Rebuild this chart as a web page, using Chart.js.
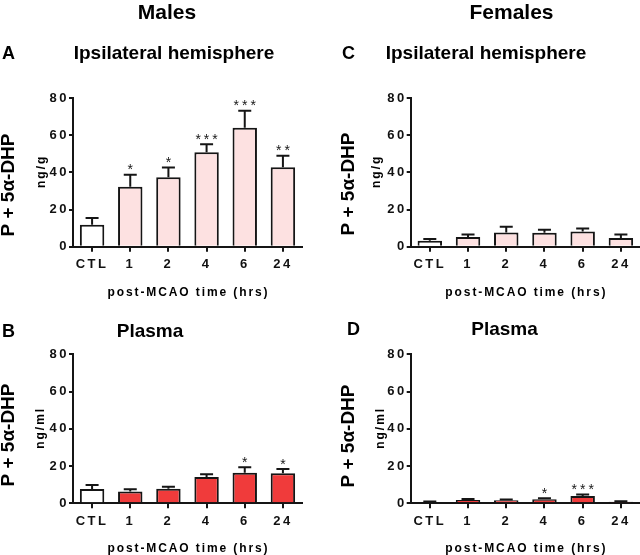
<!DOCTYPE html>
<html>
<head>
<meta charset="utf-8">
<title>P + 5α-DHP after MCAO</title>
<script src="https://cdn.jsdelivr.net/npm/chart.js@4.4.1/dist/chart.umd.min.js"></script>
<style>
  body { margin: 0; background: #fff; }
  #wrap { position: relative; width: 640px; height: 555px; overflow: hidden; }
  canvas { position: absolute; }
</style>
</head>
<body>
<div id="wrap">
  <canvas id="chartA" width="320" height="300" style="left:0;top:0"></canvas>
  <canvas id="chartB" width="320" height="255" style="left:0;top:300px"></canvas>
  <canvas id="chartC" width="320" height="300" style="left:320px;top:0"></canvas>
  <canvas id="chartD" width="320" height="255" style="left:320px;top:300px"></canvas>
</div>
<script>
// data (mean and SEM)
const timeLabels = ['CTL', '1', '2', '4', '6', '24'];
const yTicks = [0, 20, 40, 60, 80];

const maleBrainMean = [11.8, 32.3, 37.4, 50.8, 64.0, 42.8];
const maleBrainSem  = [3.6, 6.4, 5.2, 4.3, 9.2, 6.1];
const maleBrainSig  = ['', '*', '*', '***', '***', '**'];

const malePlasmaMean = [7.7, 6.4, 7.8, 14.1, 16.4, 16.1];
const malePlasmaSem  = [2.1, 1.1, 1.1, 1.5, 2.9, 2.3];
const malePlasmaSig  = ['', '', '', '', '*', '*'];

const femaleBrainMean = [3.2, 5.2, 7.7, 7.5, 8.2, 4.7];
const femaleBrainSem  = [0.9, 1.4, 3.0, 1.6, 1.6, 1.9];
const femaleBrainSig  = ['', '', '', '', '', ''];

const femalePlasmaMean = [0.7, 1.8, 1.7, 2.2, 3.9, 0.8];
const femalePlasmaSem  = [0.3, 0.5, 0.3, 0.5, 0.8, 0.3];
const femalePlasmaSig  = ['', '', '', '*', '***', ''];

const FONT = '"Liberation Sans", Arial, sans-serif';
const INK = '#151515';
const PINK = '#fde1e1';
const RED = '#f03b3b';

// error bars, stars and all the titles
const panelPlugin = {
  id: 'panelPlugin',
  beforeDraw(chart) {
    chart.ctx.letterSpacing = '2.5px';
  },
  afterDatasetsDraw(chart, args, opts) {
    const ctx = chart.ctx;
    const y = chart.scales.y;
    const meta = chart.getDatasetMeta(0);
    ctx.save();
    ctx.strokeStyle = INK;
    ctx.lineWidth = 2;
    meta.data.forEach((bar, i) => {
      const top = y.getPixelForValue(opts.mean[i]);
      const end = y.getPixelForValue(opts.mean[i] + opts.sem[i]);
      ctx.beginPath();
      ctx.moveTo(bar.x, top);
      ctx.lineTo(bar.x, end);
      ctx.moveTo(bar.x - 6.5, end);
      ctx.lineTo(bar.x + 6.5, end);
      ctx.stroke();
      if (opts.sig[i]) {
        ctx.fillStyle = INK;
        ctx.font = '14px ' + FONT;
        ctx.letterSpacing = '3px';
        ctx.textAlign = 'center';
        ctx.textBaseline = 'alphabetic';
        ctx.fillText(opts.sig[i], bar.x + 1.5, end - 0.5);
      }
    });
    ctx.restore();
  },
  afterDraw(chart, args, opts) {
    const ctx = chart.ctx;
    const area = chart.chartArea;
    ctx.save();
    ctx.fillStyle = '#000';
    ctx.letterSpacing = '0px';
    ctx.textBaseline = 'alphabetic';

    if (opts.heading) {
      ctx.font = 'bold 21px ' + FONT;
      ctx.textAlign = 'center';
      ctx.fillText(opts.heading, opts.headingX, opts.headingY);
    }
    ctx.font = 'bold 18px ' + FONT;
    ctx.textAlign = 'left';
    ctx.fillText(opts.letter, opts.letterX, opts.titleY);

    ctx.font = 'bold 19px ' + FONT;
    ctx.textAlign = 'center';
    ctx.fillText(opts.title, opts.titleX, opts.titleY);

    // x axis title
    ctx.font = 'bold 12px ' + FONT;
    ctx.letterSpacing = '1.9px';
    ctx.fillText('post-MCAO time (hrs)', (area.left + area.right) / 2 + 1, area.bottom + 49);

    // y axis titles, rotated
    ctx.textBaseline = 'middle';
    ctx.save();
    ctx.translate(opts.unitX, (area.top + area.bottom) / 2);
    ctx.rotate(-Math.PI / 2);
    ctx.font = 'bold 12px ' + FONT;
    ctx.letterSpacing = '2px';
    ctx.fillText(opts.unit, 1, 0);
    ctx.restore();

    ctx.save();
    ctx.translate(opts.yTitleX, opts.yTitleY);
    ctx.rotate(-Math.PI / 2);
    ctx.font = 'bold 19px ' + FONT;
    ctx.letterSpacing = '0px';
    ctx.fillText('P + 5α-DHP', 0, 0);
    ctx.restore();

    ctx.restore();
  }
};

function makePanel(id, mean, sem, sig, fill, layout, text) {
  const colors = mean.map((v, i) => (i === 0 ? '#ffffff' : fill));
  return new Chart(document.getElementById(id), {
    type: 'bar',
    data: {
      labels: timeLabels,
      datasets: [{
        data: mean,
        backgroundColor: colors,
        borderColor: INK,
        borderWidth: 2,
        borderSkipped: 'bottom',
        categoryPercentage: 1,
        barPercentage: 0.64
      }]
    },
    options: {
      responsive: false,
      animation: false,
      events: [],
      layout: { padding: { top: layout.top, right: layout.right, left: 0, bottom: 0 } },
      plugins: {
        legend: { display: false },
        tooltip: { enabled: false },
        panelPlugin: Object.assign({ mean: mean, sem: sem, sig: sig }, text)
      },
      scales: {
        x: {
          afterFit: s => { s.height = layout.xh; },
          grid: { display: true, drawOnChartArea: false, offset: false, color: INK, lineWidth: 2, tickLength: 5 },
          border: { display: true, color: INK, width: 2 },
          ticks: { color: '#111', font: { family: FONT, size: 13, weight: 'bold' }, padding: 5, maxRotation: 0, autoSkip: false }
        },
        y: {
          min: 0,
          max: 80,
          afterFit: s => { s.width = layout.yw; },
          afterBuildTicks: s => { s.ticks = yTicks.map(v => ({ value: v })); },
          grid: { display: true, drawOnChartArea: false, color: INK, lineWidth: 2, tickLength: 4 },
          border: { display: true, color: INK, width: 2 },
          ticks: { color: '#111', font: { family: FONT, size: 13, weight: 'bold' }, padding: 0 }
        }
      }
    },
    plugins: [panelPlugin]
  });
}

makePanel('chartA', maleBrainMean, maleBrainSem, maleBrainSig, PINK,
  { top: 98, right: 18, xh: 53.3, yw: 73 },
  { heading: 'Males', headingX: 167, headingY: 19, letter: 'A', letterX: 2,
    title: 'Ipsilateral hemisphere', titleX: 174, titleY: 59,
    unit: 'ng/g', unitX: 42, yTitleX: 8.5, yTitleY: 185 });

makePanel('chartB', malePlasmaMean, malePlasmaSem, malePlasmaSig, RED,
  { top: 54.3, right: 18, xh: 51.7, yw: 73 },
  { letter: 'B', letterX: 2, title: 'Plasma', titleX: 150, titleY: 36.5,
    unit: 'ng/ml', unitX: 41, yTitleX: 8.5, yTitleY: 135 });

makePanel('chartC', femaleBrainMean, femaleBrainSem, femaleBrainSig, PINK,
  { top: 98, right: 0, xh: 53.3, yw: 90.7 },
  { heading: 'Females', headingX: 191.5, headingY: 19, letter: 'C', letterX: 22,
    title: 'Ipsilateral hemisphere', titleX: 166, titleY: 59,
    unit: 'ng/g', unitX: 57, yTitleX: 28.3, yTitleY: 184 });

makePanel('chartD', femalePlasmaMean, femalePlasmaSem, femalePlasmaSig, RED,
  { top: 54.3, right: 0, xh: 51.7, yw: 90.7 },
  { letter: 'D', letterX: 27, title: 'Plasma', titleX: 184.5, titleY: 35,
    unit: 'ng/ml', unitX: 61, yTitleX: 28.3, yTitleY: 136 });
</script>
</body>
</html>
